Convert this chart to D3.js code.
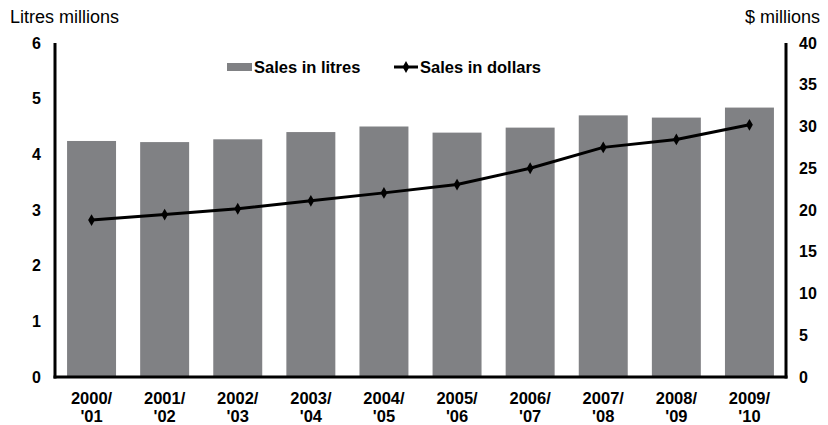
<!DOCTYPE html>
<html><head><meta charset="utf-8">
<script src="https://cdn.jsdelivr.net/npm/d3@7"></script>
<style>body{margin:0;background:#fff}svg{display:block}</style>
</head><body>
<svg id="c" width="828" height="425"></svg>
<script>
const categories = ["2000/|'01","2001/|'02","2002/|'03","2003/|'04","2004/|'05","2005/|'06","2006/|'07","2007/|'08","2008/|'09","2009/|'10"];
const litres = [4.24, 4.22, 4.27, 4.40, 4.50, 4.39, 4.48, 4.70, 4.66, 4.84];
const dollars = [18.8, 19.45, 20.15, 21.1, 22.05, 23.05, 25.0, 27.5, 28.45, 30.2];
const leftTicks = [0,1,2,3,4,5,6];
const rightTicks = [0,5,10,15,20,25,30,35,40];

const svg = d3.select("#c");
const L = 55, R = 786, T = 43, B = 377;
const font = "Liberation Sans, Arial, sans-serif";
const barColor = "#808184";

const x = d3.scaleBand().domain(categories).range([L, R]).paddingInner(0.33).paddingOuter(0.165);
const yL = d3.scaleLinear().domain([0, 6]).range([B, T]);
const yR = d3.scaleLinear().domain([0, 40]).range([B, T]);

// bars
svg.append("g").selectAll("rect").data(litres).join("rect")
  .attr("x", (d,i) => x(categories[i]))
  .attr("width", x.bandwidth())
  .attr("y", d => yL(d))
  .attr("height", d => B - yL(d))
  .attr("fill", barColor);

// line
const line = d3.line().x((d,i) => x(categories[i]) + x.bandwidth()/2).y(d => yR(d));
svg.append("path").datum(dollars).attr("d", line)
  .attr("fill","none").attr("stroke","#000").attr("stroke-width",3).attr("stroke-linejoin","round");
const diamond = d3.symbol().type(d3.symbolDiamond).size(40);
svg.append("g").selectAll("path").data(dollars).join("path")
  .attr("d", diamond)
  .attr("transform", (d,i) => `translate(${x(categories[i]) + x.bandwidth()/2},${yR(d)})`)
  .attr("fill","#000");

// axes
const axL = d3.axisLeft(yL).tickValues(leftTicks).tickSize(0).tickPadding(14).tickFormat(d3.format("d"));
const gL = svg.append("g").attr("transform",`translate(${L},0)`).call(axL);
const axR = d3.axisRight(yR).tickValues(rightTicks).tickSize(0).tickPadding(13).tickFormat(d3.format("d"));
const gR = svg.append("g").attr("transform",`translate(${R},0)`).call(axR);
const axB = d3.axisBottom(x).tickSize(0).tickPadding(0).tickFormat("");
const gB = svg.append("g").attr("transform",`translate(0,${B})`).call(axB);
[gL,gR,gB].forEach(g => {
  g.select(".domain").attr("stroke","#000").attr("stroke-width",3);
  g.selectAll("text").attr("font-family",font).attr("font-weight","bold").attr("font-size","16px").attr("fill","#000");
});
gL.select(".domain").attr("d",`M0,${T}V${B+1.5}`);
gR.select(".domain").attr("d",`M0,${T}V${B+1.5}`);
gB.select(".domain").attr("d",`M${L-1.5},0H${R+1.5}`);

// x labels (two lines)
gB.selectAll(".tick").each(function(d){
  const parts = d.split("|");
  const t = d3.select(this).append("text")
    .attr("font-family",font).attr("font-weight","bold").attr("font-size","16.5px")
    .attr("fill","#000").attr("text-anchor","middle");
  t.append("tspan").attr("x",0).attr("y",26.5).text(parts[0]);
  t.append("tspan").attr("x",0).attr("y",44.5).text(parts[1]);
});

// axis titles
svg.append("text").attr("x",10).attr("y",23).attr("font-family",font).attr("font-size","18px").attr("fill","#000").text("Litres millions");
svg.append("text").attr("x",820).attr("y",23).attr("text-anchor","end").attr("font-family",font).attr("font-size","18px").attr("fill","#000").text("$ millions");

// legend
const lg = svg.append("g");
lg.append("rect").attr("x",227).attr("y",63).attr("width",25).attr("height",8).attr("fill",barColor);
lg.append("text").attr("x",254).attr("y",73).attr("font-family",font).attr("font-weight","bold").attr("font-size","16.5px").attr("fill","#000").text("Sales in litres");
lg.append("line").attr("x1",394).attr("x2",418).attr("y1",67).attr("y2",67).attr("stroke","#000").attr("stroke-width",3);
lg.append("path").attr("d",diamond).attr("transform","translate(406,67)").attr("fill","#000");
lg.append("text").attr("x",420).attr("y",73).attr("font-family",font).attr("font-weight","bold").attr("font-size","16.5px").attr("fill","#000").text("Sales in dollars");
</script>
</body></html>
